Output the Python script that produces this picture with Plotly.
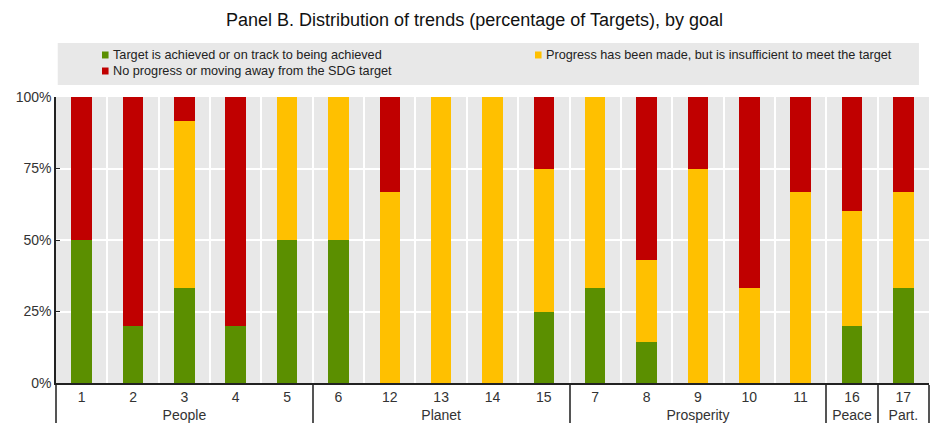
import plotly.graph_objects as go

groups = ["People"]*5 + ["Planet"]*5 + ["Prosperity"]*5 + ["Peace", "Part."]
goals = ["1", "2", "3", "4", "5", "6", "12", "13", "14", "15", "7", "8", "9", "10", "11", "16", "17"]

on_track = [50, 20, 33.3, 20, 50, 50, 0, 0, 0, 25, 33.3, 14.3, 0, 0, 0, 20, 33.3]
progress = [0, 0, 58.4, 0, 50, 50, 66.7, 100, 100, 50, 66.7, 28.6, 75, 33.3, 66.7, 40, 33.4]
no_progress = [50, 80, 8.3, 80, 0, 0, 33.3, 0, 0, 25, 0, 57.1, 25, 66.7, 33.3, 40, 33.3]

names = ["Target is achieved or on track to being achieved",
         "Progress has been made, but is insufficient to meet the target",
         "No progress or moving away from the SDG target"]
colors = ["#5b8f00", "#ffc000", "#c00000"]
y_ticks = [0, 25, 50, 75, 100]

FONT = "Liberation Sans, Arial, sans-serif"

fig = go.Figure()
for vals, name, col in zip([on_track, progress, no_progress], names, colors):
    fig.add_trace(go.Bar(x=[groups, goals], y=vals, name=name, marker_color=col,
                         marker_line_width=0, width=0.4, showlegend=False))

# custom legend panel (grey box with small square keys)
fig.add_shape(type="rect", xref="paper", yref="paper", x0=0.002, x1=0.9885, y0=1.042, y1=1.189,
              fillcolor="#e8e8e8", line_width=0, layer="below")
legend_pos = [(0.0527, 1.1469), (0.5487, 1.1469), (0.0527, 1.0909)]
for (lx, ly), name, col in zip(legend_pos, names, colors):
    fig.add_shape(type="rect", xref="paper", yref="paper",
                  x0=lx, x1=lx + 0.0075, y0=ly - 0.0122, y1=ly + 0.0122,
                  fillcolor=col, line_width=0)
    fig.add_annotation(xref="paper", yref="paper", x=lx + 0.0105, y=ly, text=name,
                       showarrow=False, xanchor="left", yanchor="middle",
                       font=dict(size=12.7, color="#222"))

fig.update_layout(
    barmode="stack",
    width=949, height=437,
    margin=dict(l=56, r=20, t=97, b=54),
    paper_bgcolor="white",
    plot_bgcolor="#e8e8e8",
    font=dict(family=FONT, size=13, color="#222"),
    title=dict(text="Panel B. Distribution of trends (percentage of Targets), by goal",
               x=0.5, xanchor="center", y=0.955, yanchor="middle",
               font=dict(size=18, color="#111")),
    showlegend=False,
)
fig.update_yaxes(range=[0, 100], tickmode="array", tickvals=y_ticks,
                 ticktext=[f"{v}%" for v in y_ticks], automargin=False,
                 showgrid=True, gridcolor="white", gridwidth=2,
                 showline=True, linecolor="#222", linewidth=1.5,
                 ticks="inside", ticklen=4, tickcolor="#222", zeroline=False,
                 tickfont=dict(size=14, color="#333"))
fig.update_xaxes(type="multicategory", tickson="boundaries", showgrid=True,
                 gridcolor="white", gridwidth=2, automargin=False,
                 showline=True, linecolor="#222", linewidth=1.5,
                 showdividers=True, dividercolor="#555", dividerwidth=1.5,
                 ticks="", tickfont=dict(size=14, color="#333"))

fig.write_html("out.html", config={"displayModeBar": False},
               post_script="document.body.style.margin='0';document.body.style.overflow='hidden';")
